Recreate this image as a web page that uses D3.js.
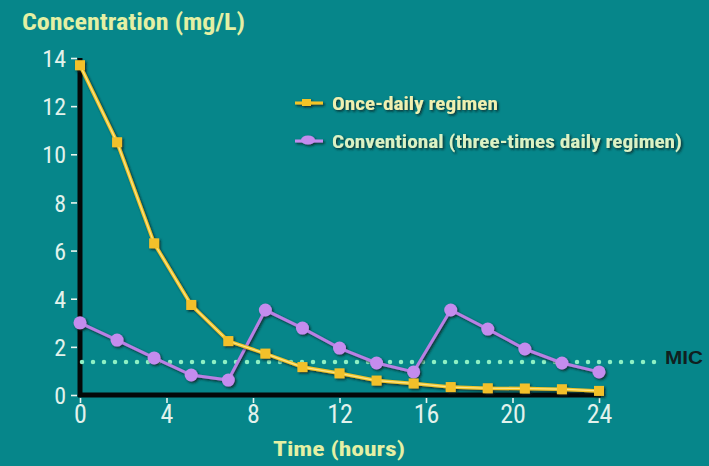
<!DOCTYPE html>
<html><head><meta charset="utf-8">
<script src="https://cdn.jsdelivr.net/npm/d3@7"></script>
<style>
html,body{margin:0;padding:0;background:#06868a;}
svg{display:block;}
</style></head>
<body>
<svg id="chart" width="709" height="466"></svg>
<script>
const times = [0, 1.714, 3.429, 5.143, 6.857, 8.571, 10.286, 12, 13.714, 15.429, 17.143, 18.857, 20.571, 22.286, 24];
const onceDaily = [13.7, 10.5, 6.3, 3.74, 2.24, 1.72, 1.16, 0.9, 0.6, 0.48, 0.33, 0.28, 0.27, 0.24, 0.17];
const conventional = [3.0, 2.28, 1.54, 0.83, 0.62, 3.53, 2.78, 1.95, 1.33, 0.96, 3.53, 2.74, 1.91, 1.33, 0.96];
const micValue = 1.37;
const xTicks = [0, 4, 8, 12, 16, 20, 24];
const yTicks = [0, 2, 4, 6, 8, 10, 12, 14];
const seriesNames = ["Once-daily regimen", "Conventional (three-times daily regimen)"];

const svg = d3.select("#chart");
const narrow = "'Liberation Sans Narrow','Arial Narrow','Roboto Condensed','Liberation Sans',sans-serif";
const x = d3.scaleLinear().domain([0, 24]).range([80, 599]);
const y = d3.scaleLinear().domain([0, 14]).range([395, 58]);

const defs = svg.append("defs");
const f = defs.append("filter").attr("id","sh").attr("x","-20%").attr("y","-20%").attr("width","150%").attr("height","150%");
f.append("feDropShadow").attr("dx",1.5).attr("dy",1.5).attr("stdDeviation",0.8).attr("flood-color","#0a2222").attr("flood-opacity",0.85);

// title
svg.append("text").attr("x", 22).attr("y", 30).text("Concentration (mg/L)")
  .attr("font-family", narrow).attr("font-size", 23).attr("font-weight", "bold").attr("fill", "#e4f0a4")
  .attr("textLength", 223).attr("lengthAdjust", "spacingAndGlyphs");

// axes
const yAxis = d3.axisLeft(y).tickValues(yTicks).tickSize(6).tickPadding(2).tickFormat(d3.format("d"));
const gy = svg.append("g").attr("transform", "translate(80,0)").call(yAxis);
gy.select(".domain").remove();
gy.selectAll(".tick line").attr("stroke", "#e8f4ee").attr("stroke-width", 1.6).attr("x2", -9).attr("x1", -3);
gy.selectAll(".tick text").attr("font-family", narrow).attr("font-size", 24).attr("fill", "#e2f2ec").attr("x", -14).attr("dy", "0.36em");

const xAxis = d3.axisBottom(x).tickValues(xTicks).tickSize(6).tickPadding(4).tickFormat(d3.format("d"));
const gx = svg.append("g").attr("transform", "translate(0,395)").call(xAxis);
gx.select(".domain").remove();
gx.selectAll(".tick line").attr("stroke", "#e8f4ee").attr("stroke-width", 1.6).attr("y1", 3).attr("y2", 8);
gx.selectAll(".tick text").attr("font-family", narrow).attr("font-size", 26).attr("fill", "#e2f2ec").attr("y", 10).attr("dy", "0.71em");

svg.append("line").attr("x1", 80).attr("x2", 80).attr("y1", 58).attr("y2", 397).attr("stroke", "#040808").attr("stroke-width", 5);
svg.append("line").attr("x1", 78).attr("x2", 601).attr("y1", 395).attr("y2", 395).attr("stroke", "#040808").attr("stroke-width", 5);

svg.append("text").attr("x", 339).attr("y", 456).attr("text-anchor", "middle").text("Time (hours)")
  .attr("font-family", narrow).attr("font-size", 21).attr("font-weight", "bold").attr("fill", "#e4f0a4")
  .attr("textLength", 132).attr("lengthAdjust", "spacingAndGlyphs");

// MIC line
svg.append("line").attr("x1", x(0) + 2).attr("x2", 655).attr("y1", y(micValue)).attr("y2", y(micValue))
  .attr("stroke", "#8ef0c4").attr("stroke-width", 4.5).attr("stroke-linecap", "round").attr("stroke-dasharray", "0,11");
svg.append("text").attr("x", 665).attr("y", y(micValue) - 4).attr("dy", "0.35em").text("MIC")
  .attr("font-family", "'Liberation Sans',Arial,sans-serif").attr("font-size", 18).attr("font-weight", "bold").attr("fill", "#102020")
  .attr("textLength", 38).attr("lengthAdjust", "spacingAndGlyphs");

const line = d3.line().x(d => x(d[0])).y(d => y(d[1]));
const once = times.map((t, i) => [t, onceDaily[i]]);
const conv = times.map((t, i) => [t, conventional[i]]);

// conventional series
const gc = svg.append("g").attr("filter", "url(#sh)");
gc.append("path").datum(conv).attr("d", line).attr("fill", "none").attr("stroke", "#b980e4").attr("stroke-width", 3);
gc.selectAll("circle").data(conv).join("circle").attr("cx", d => x(d[0])).attr("cy", d => y(d[1])).attr("r", 6.5).attr("fill", "#c48cee");

// once-daily series
const go = svg.append("g").attr("filter", "url(#sh)");
go.append("path").datum(once).attr("d", line).attr("fill", "none").attr("stroke", "#f2c428").attr("stroke-width", 3.5);
go.append("path").datum(once).attr("d", line).attr("fill", "none").attr("stroke", "#fbe48a").attr("stroke-width", 1.2);
go.selectAll("rect").data(once).join("rect").attr("x", d => x(d[0]) - 5).attr("y", d => y(d[1]) - 5).attr("width", 10).attr("height", 10).attr("fill", "#f2c02a");

// legend
const legend = [
  {name: seriesNames[0], color: "#f2c428", y: 103, shape: "rect", w: 166, fill: "#f0f0b0"},
  {name: seriesNames[1], color: "#c48cee", y: 141, shape: "circle", w: 350, fill: "#dcf2c4"}
];
legend.forEach(l => {
  const g = svg.append("g").attr("filter", "url(#sh)");
  g.append("line").attr("x1", 295).attr("x2", 323).attr("y1", l.y).attr("y2", l.y).attr("stroke", l.color).attr("stroke-width", 3);
  if (l.shape === "rect") g.append("rect").attr("x", 302).attr("y", l.y - 4).attr("width", 9).attr("height", 7).attr("fill", l.color);
  else g.append("ellipse").attr("cx", 308).attr("cy", l.y - 1).attr("rx", 7).attr("ry", 4.5).attr("fill", l.color);
  g.append("text").attr("x", 332).attr("y", l.y).attr("dy", "0.35em").text(l.name)
    .attr("font-family", narrow).attr("font-size", 19).attr("font-weight", "bold").attr("fill", l.fill)
    .attr("textLength", l.w).attr("lengthAdjust", "spacingAndGlyphs");
});
</script>
</body></html>
